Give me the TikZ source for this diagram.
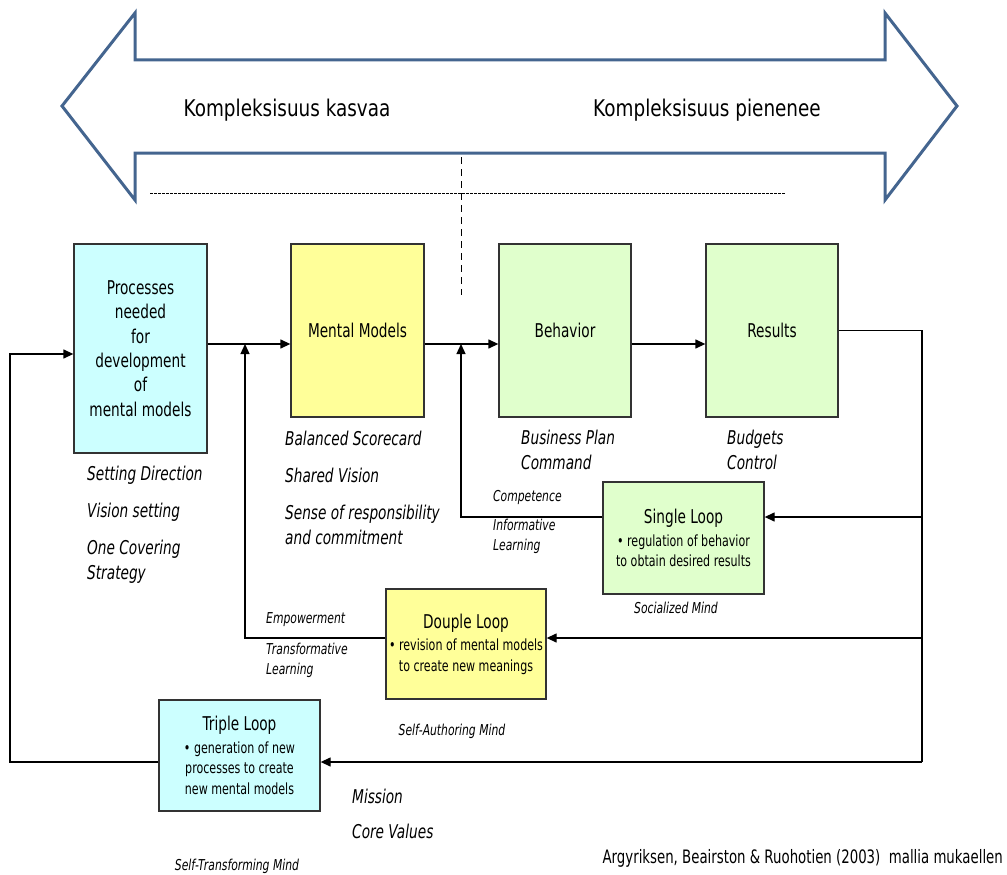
\documentclass[tikz,border=0pt]{standalone}
\usepackage{fontspec}
\setmainfont{DejaVu Sans}[FakeStretch=0.72]
\newfontfamily\headfont{DejaVu Sans}[FakeStretch=0.8]
\usetikzlibrary{arrows.meta}
\definecolor{arrowblue}{HTML}{44658F}
\definecolor{cyanfill}{HTML}{CCFFFF}
\definecolor{yellowfill}{HTML}{FFFF99}
\definecolor{greenfill}{HTML}{E0FFCC}
\definecolor{boxline}{HTML}{333333}

\begin{document}
\begin{tikzpicture}[x=1pt,y=-1pt,
  box/.style={draw=boxline, line width=1.3pt, inner sep=0pt, align=center,
    font=\fontsize{19}{24.4}\selectfont},
  loopbox/.style={draw=boxline, line width=1.3pt, inner sep=0pt, align=center,
    font=\fontsize{15.4}{20.5}\selectfont},
  lbl/.style={anchor=west, inner sep=0pt, align=left, font=\fontsize{19}{25}\selectfont\itshape},
  slbl/.style={anchor=west, inner sep=0pt, align=left, font=\fontsize{15}{20}\selectfont\itshape},
  conn/.style={line width=1.3pt, black},
  arr/.style={conn, -{Triangle[length=10pt,width=9pt]}},
  head/.style={inner sep=0pt, font=\headfont\fontsize{23}{26}\selectfont},
]
\useasboundingbox (0,0) rectangle (1007,875);

% two-headed complexity arrow
\draw[arrowblue, line width=3pt, line join=miter, fill=white]
  (62,106) -- (135,13) -- (135,60) -- (885,60) -- (885,13) -- (957,106)
  -- (885,200) -- (885,153) -- (135,153) -- (135,200) -- cycle;
\node[head] (kasvaa) at (287,110) {Kompleksisuus kasvaa};
\node[head] (pienenee) at (707,110) {Kompleksisuus pienenee};

% guide lines under the arrow
\draw[dash pattern=on 2.5pt off 1.5pt, line width=1pt] (150,193) -- (785,193);
\draw[dash pattern=on 7pt off 5pt, line width=1pt] (461,157) -- (461,295);

% main chain
\node[box, fill=cyanfill, minimum width=133pt, minimum height=209pt] (proc) at (140.5,348.5)
  {Processes\\needed\\for\\development\\of\\mental models};
\node[box, fill=yellowfill, minimum width=133pt, minimum height=173pt] (mm) at (357.5,330.5) {Mental Models};
\node[box, fill=greenfill, minimum width=132pt, minimum height=173pt] (beh) at (565,330.5) {Behavior};
\node[box, fill=greenfill, minimum width=132pt, minimum height=173pt] (res) at (772,330.5) {Results};

% loop boxes
\node[loopbox, fill=greenfill, minimum width=161pt, minimum height=112pt] (sl) at (683.5,538)
  {{\fontsize{19}{20}\selectfont Single Loop}\\[2pt] • regulation of behavior\\to obtain desired results};
\node[loopbox, fill=yellowfill, minimum width=160pt, minimum height=110pt] (dl) at (466,644)
  {{\fontsize{19}{20}\selectfont Douple Loop}\\[2pt] • revision of mental models\\to create new meanings};
\node[loopbox, fill=cyanfill, minimum width=161pt, minimum height=111pt] (tl) at (239.5,755.5)
  {{\fontsize{19}{20}\selectfont Triple Loop}\\[2pt] • generation of new\\processes to create\\new mental models};

% routing coordinates
\coordinate (row) at (0,344);
\coordinate (bus) at (922,0);
\coordinate (ysl) at (0,517);
\coordinate (ydl) at (0,638);
\coordinate (ytl) at (0,762);
\coordinate (j1) at (461,344);
\coordinate (j2) at (245,344);
\coordinate (lft) at (10,354);

% forward arrows
\draw[arr] (proc.east |- row) -- (mm.west |- row);
\draw[arr] (mm.east |- row) -- (beh.west |- row);
\draw[arr] (beh.east |- row) -- (res.west |- row);

% feedback bus from results
\draw[conn] (res.east) -- (res.east -| bus) -- (bus |- ytl);
\draw[arr] (bus |- ysl) -- (sl.east |- ysl);
\draw[arr] (bus |- ydl) -- (dl.east |- ydl);
\draw[arr] (bus |- ytl) -- (tl.east |- ytl);

% loops back into the chain
\draw[arr] (sl.west |- ysl) -| (j1);
\draw[arr] (dl.west |- ydl) -| (j2);
\draw[arr] (tl.west |- ytl) -| (lft) -- (proc.west |- lft);

% descriptive labels
\node[lbl] (sd) at (87,475) {Setting Direction};
\node[lbl] (vs) at (87,512) {Vision setting};
\node[lbl] (oc) at (87,561.5) {One Covering\\Strategy};
\node[lbl] (bs) at (285,438) {Balanced Scorecard};
\node[lbl] (sv) at (285,475) {Shared Vision};
\node[lbl] (sr) at (285,524.5) {Sense of responsibility\\and commitment};
\node[lbl] (bp) at (521,450) {Business Plan\\Command};
\node[lbl] (bc) at (727,450) {Budgets\\Control};
\node[lbl] (mi) at (352,796) {Mission};
\node[lbl] (cv) at (352,831) {Core Values};

\node[slbl] (comp) at (493,497) {Competence};
\node[slbl] (inf) at (493,536) {Informative\\Learning};
\node[slbl] (emp) at (266,620) {Empowerment};
\node[slbl] (tra) at (266,660) {Transformative\\Learning};
\node[slbl, anchor=center] (soc) at (676,608) {Socialized Mind};
\node[slbl, anchor=center] (sam) at (452,731) {Self-Authoring Mind};
\node[slbl, anchor=center] (stm) at (237,866) {Self-Transforming Mind};

\node[inner sep=0pt, anchor=east, font=\fontsize{18.5}{22}\selectfont] (src) at (1003,858)
  {Argyriksen, Beairston \& Ruohotien (2003)\ \ mallia mukaellen};
\end{tikzpicture}
\end{document}
